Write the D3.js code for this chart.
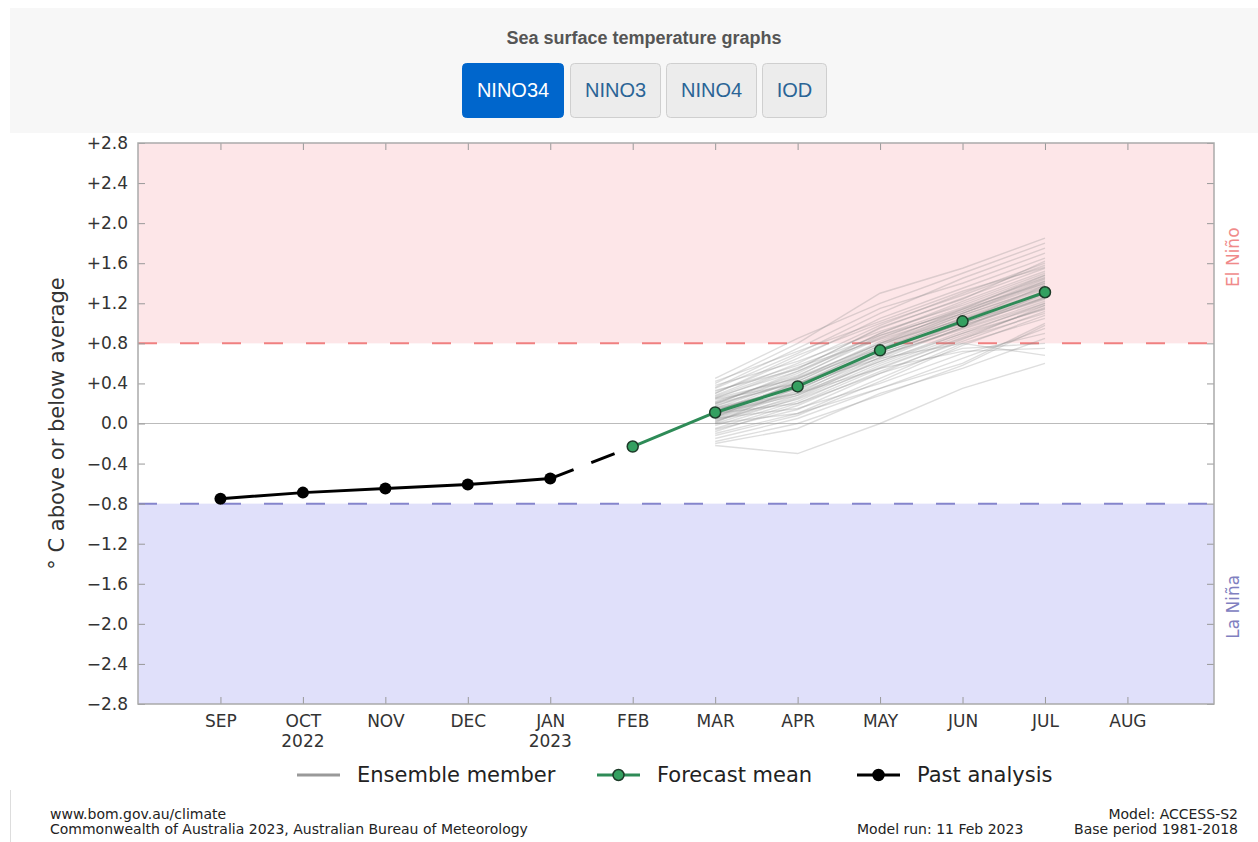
<!DOCTYPE html>
<html>
<head>
<meta charset="utf-8">
<script src="https://cdn.jsdelivr.net/npm/d3@7"></script>
<style>
  body { margin: 0; background: #fff; }
  text { font-family: "DejaVu Sans", sans-serif; }
  .btn text { font-family: "Liberation Sans", Arial, sans-serif; }
</style>
</head>
<body>
<div id="chart"></div>
<script>
// ---- data ----
var months = ["SEP", "OCT", "NOV", "DEC", "JAN", "FEB", "MAR", "APR", "MAY", "JUN", "JUL", "AUG"];
var years = { 1: "2022", 4: "2023" };
var yTicks = [2.8, 2.4, 2.0, 1.6, 1.2, 0.8, 0.4, 0.0, -0.4, -0.8, -1.2, -1.6, -2.0, -2.4, -2.8];

// past analysis SEP..JAN
var pastMonths = [0, 1, 2, 3, 4];
var pastValues = [-0.75, -0.69, -0.65, -0.61, -0.55];

// forecast mean FEB..JUL
var meanMonths = [5, 6, 7, 8, 9, 10];
var meanValues = [-0.23, 0.11, 0.37, 0.73, 1.02, 1.31];

// ensemble members MAR..JUL
var ensMonths = [6, 7, 8, 9, 10];
var ensemble = [
  [0.10, 0.38, 0.75, 1.05, 1.32], [0.05, 0.30, 0.70, 0.98, 1.25], [0.15, 0.45, 0.80, 1.10, 1.40],
  [0.20, 0.50, 0.90, 1.20, 1.50], [0.00, 0.25, 0.60, 0.90, 1.20], [-0.05, 0.20, 0.55, 0.85, 1.10],
  [0.25, 0.55, 0.95, 1.25, 1.55], [0.30, 0.65, 1.05, 1.35, 1.65], [-0.10, 0.10, 0.45, 0.80, 1.05],
  [0.35, 0.70, 1.10, 1.45, 1.75], [0.40, 0.80, 1.30, 1.55, 1.85], [-0.15, 0.05, 0.35, 0.65, 0.95],
  [-0.20, -0.05, 0.30, 0.55, 0.85], [0.12, 0.40, 0.72, 1.00, 1.28], [0.08, 0.35, 0.68, 0.95, 1.22],
  [0.18, 0.42, 0.78, 1.08, 1.35], [0.22, 0.48, 0.85, 1.15, 1.45], [0.02, 0.28, 0.62, 0.92, 1.18],
  [-0.02, 0.22, 0.58, 0.88, 1.15], [0.28, 0.60, 0.98, 1.30, 1.60], [0.45, 0.85, 1.20, 1.50, 1.80],
  [-0.22, -0.30, 0.00, 0.35, 0.60], [0.05, 0.15, 0.40, 0.70, 0.90], [0.10, 0.20, 0.50, 0.75, 0.80],
  [0.15, 0.30, 0.55, 0.72, 0.75], [0.20, 0.40, 0.65, 0.80, 0.68], [0.00, 0.10, 0.35, 0.60, 1.00],
  [0.32, 0.58, 0.88, 1.12, 1.42], [0.25, 0.45, 0.75, 1.00, 1.30], [0.06, 0.32, 0.66, 1.02, 1.38],
  [0.14, 0.36, 0.74, 1.06, 1.34], [-0.08, 0.18, 0.52, 0.82, 1.12], [0.38, 0.62, 0.92, 1.18, 1.48],
  [0.12, 0.44, 0.82, 1.12, 1.44], [0.04, 0.26, 0.64, 0.96, 1.26], [-0.12, 0.08, 0.42, 0.78, 1.08],
  [0.26, 0.52, 0.86, 1.14, 1.40], [0.16, 0.34, 0.70, 0.98, 1.24], [0.09, 0.40, 0.76, 1.08, 1.36],
  [0.21, 0.46, 0.80, 1.04, 1.30], [0.03, 0.24, 0.56, 0.86, 1.16], [0.30, 0.68, 1.00, 1.28, 1.58],
  [0.11, 0.30, 0.62, 0.90, 1.14], [-0.18, 0.00, 0.28, 0.58, 0.98], [0.36, 0.75, 1.15, 1.40, 1.70],
  [0.19, 0.52, 0.90, 1.22, 1.52], [0.07, 0.33, 0.72, 1.04, 1.30], [0.24, 0.40, 0.68, 0.94, 1.20],
  [0.13, 0.38, 0.78, 1.10, 1.42], [0.01, 0.36, 0.74, 1.00, 1.26], [0.17, 0.47, 0.88, 1.16, 1.46],
  [0.27, 0.56, 0.84, 1.10, 1.38], [-0.06, 0.14, 0.50, 0.84, 1.18], [0.33, 0.54, 0.96, 1.24, 1.62],
  [0.10, 0.28, 0.66, 0.96, 1.30], [0.42, 0.72, 1.02, 1.32, 1.56], [0.06, 0.42, 0.80, 1.14, 1.48]
];

var tabs = ["NINO34", "NINO3", "NINO4", "IOD"];
var elNino = 0.8, laNina = -0.8;

// ---- layout ----
var svgWidth = 1258, svgHeight = 842;
var plot = { left: 138, right: 1214, top: 143, bottom: 704 };

var svg = d3.select("#chart").append("svg")
    .attr("width", svgWidth)
    .attr("height", svgHeight);

// header panel
svg.append("rect")
    .attr("x", 10).attr("y", 8).attr("width", svgWidth - 10).attr("height", 125)
    .attr("fill", "#f7f7f7");
svg.append("line")
    .attr("x1", 10.5).attr("x2", 10.5).attr("y1", 790).attr("y2", svgHeight)
    .attr("stroke", "#ddd");

svg.append("text")
    .attr("x", 644).attr("y", 44)
    .attr("text-anchor", "middle")
    .style("font-family", "'Liberation Sans', Arial, sans-serif")
    .style("font-weight", "bold").style("font-size", "18px")
    .attr("fill", "#555")
    .text("Sea surface temperature graphs");

var btnX = [462, 570, 666, 762], btnW = [101, 90, 90, 64];
var btn = svg.selectAll("g.btn").data(tabs).enter().append("g").attr("class", "btn");
btn.append("rect")
    .attr("x", (d, i) => btnX[i] + 0.5).attr("y", 63.5)
    .attr("width", (d, i) => btnW[i]).attr("height", 54)
    .attr("rx", 4)
    .attr("fill", (d, i) => i === 0 ? "#0066cc" : "#ececec")
    .attr("stroke", (d, i) => i === 0 ? "#0066cc" : "#cfcfcf");
btn.append("text")
    .attr("x", (d, i) => btnX[i] + btnW[i] / 2 + 0.5).attr("y", 97)
    .attr("text-anchor", "middle")
    .style("font-size", "20px")
    .attr("fill", (d, i) => i === 0 ? "#fff" : "#2a6496")
    .text(d => d);

// ---- scales ----
var x = d3.scaleLinear().domain([-1, 12.05]).range([plot.left, plot.right]);
var y = d3.scaleLinear().domain([-2.8, 2.8]).range([plot.bottom, plot.top]);

var chart = svg.append("g");

// shading
chart.append("rect")
    .attr("x", plot.left).attr("width", plot.right - plot.left)
    .attr("y", y(2.8)).attr("height", y(elNino) - y(2.8))
    .attr("fill", "#fde6e8");
chart.append("rect")
    .attr("x", plot.left).attr("width", plot.right - plot.left)
    .attr("y", y(laNina)).attr("height", y(-2.8) - y(laNina))
    .attr("fill", "#e0e0fa");

// zero line + thresholds
chart.append("line")
    .attr("x1", plot.left).attr("x2", plot.right).attr("y1", y(0)).attr("y2", y(0))
    .attr("stroke", "#bbb").attr("stroke-width", 1.2);
chart.append("line")
    .attr("x1", plot.left).attr("x2", plot.right).attr("y1", y(elNino)).attr("y2", y(elNino))
    .attr("stroke", "#f08080").attr("stroke-width", 2).attr("stroke-dasharray", "19,23");
chart.append("line")
    .attr("x1", plot.left).attr("x2", plot.right).attr("y1", y(laNina)).attr("y2", y(laNina))
    .attr("stroke", "#8585cc").attr("stroke-width", 2).attr("stroke-dasharray", "19,23");

// axes (ticks inward on all four sides)
var tickColor = "#999";
function styleAxis(g) {
    g.select(".domain").remove();
    g.selectAll(".tick line").attr("stroke", tickColor);
    g.selectAll(".tick text").attr("fill", "#333").style("font-size", "17px");
}
chart.append("g")
    .attr("transform", `translate(${plot.left},0)`)
    .call(d3.axisLeft(y).tickValues(yTicks).tickSize(-7).tickPadding(10)
        .tickFormat(d => d === 0 ? "0.0" : (d > 0 ? "+" : "\u2212") + Math.abs(d).toFixed(1)))
    .call(styleAxis);
chart.append("g")
    .attr("transform", `translate(${plot.right},0)`)
    .call(d3.axisRight(y).tickValues(yTicks).tickSize(-7).tickFormat(""))
    .call(styleAxis);
chart.append("g")
    .attr("transform", `translate(0,${plot.bottom})`)
    .call(d3.axisBottom(x).tickValues(d3.range(months.length)).tickSize(-7).tickPadding(11)
        .tickFormat(i => months[i]))
    .call(styleAxis);
chart.append("g")
    .attr("transform", `translate(0,${plot.top})`)
    .call(d3.axisTop(x).tickValues(d3.range(months.length)).tickSize(-7).tickFormat(""))
    .call(styleAxis);

// year labels
chart.selectAll("text.year").data(Object.keys(years)).enter().append("text")
    .attr("class", "year")
    .attr("x", d => x(+d)).attr("y", plot.bottom + 43)
    .attr("text-anchor", "middle").attr("fill", "#333").style("font-size", "17px")
    .text(d => years[d]);

// frame
chart.append("rect")
    .attr("x", plot.left).attr("y", plot.top)
    .attr("width", plot.right - plot.left).attr("height", plot.bottom - plot.top)
    .attr("fill", "none").attr("stroke", "#aaa").attr("stroke-width", 1.5);

// ensemble members
var ensLine = d3.line().x((d, i) => x(ensMonths[i])).y(d => y(d));
chart.append("g").selectAll("path").data(ensemble).enter().append("path")
    .attr("d", ensLine)
    .attr("fill", "none").attr("stroke", "#8a8a8a")
    .attr("stroke-opacity", 0.28).attr("stroke-width", 1.4);

// past analysis
var pastLine = d3.line().x((d, i) => x(pastMonths[i])).y(d => y(d));
chart.append("path")
    .attr("d", pastLine(pastValues))
    .attr("fill", "none").attr("stroke", "#000").attr("stroke-width", 3);
// dashed link from last analysis to first forecast
chart.append("line")
    .attr("x1", x(pastMonths[4])).attr("y1", y(pastValues[4]))
    .attr("x2", x(meanMonths[0])).attr("y2", y(meanValues[0]))
    .attr("stroke", "#000").attr("stroke-width", 3).attr("stroke-dasharray", "25,19");
chart.append("g").selectAll("circle").data(pastValues).enter().append("circle")
    .attr("cx", (d, i) => x(pastMonths[i])).attr("cy", d => y(d)).attr("r", 6)
    .attr("fill", "#000");

// forecast mean
var meanLine = d3.line().x((d, i) => x(meanMonths[i])).y(d => y(d));
chart.append("path")
    .attr("d", meanLine(meanValues))
    .attr("fill", "none").attr("stroke", "#2e8b57").attr("stroke-width", 3);
chart.append("g").selectAll("circle").data(meanValues).enter().append("circle")
    .attr("cx", (d, i) => x(meanMonths[i])).attr("cy", d => y(d)).attr("r", 5.5)
    .attr("fill", "#34a060").attr("stroke", "#1d3b29").attr("stroke-width", 1.5);

// axis label
svg.append("text")
    .attr("transform", `translate(64,${(plot.top + plot.bottom) / 2}) rotate(-90)`)
    .attr("text-anchor", "middle").attr("fill", "#333").style("font-size", "21px")
    .text("\u00b0 C above or below average");

// right labels
svg.append("text")
    .attr("transform", `translate(1239,${y(1.66)}) rotate(-90)`)
    .attr("text-anchor", "middle").attr("fill", "#f08a8a").style("font-size", "17px")
    .text("El Niño");
svg.append("text")
    .attr("transform", `translate(1239,${y(-1.83)}) rotate(-90)`)
    .attr("text-anchor", "middle").attr("fill", "#8080c0").style("font-size", "17px")
    .text("La Niña");

// legend
var legend = [
    { label: "Ensemble member", x: 297, color: "#999", marker: null },
    { label: "Forecast mean", x: 597, color: "#2e8b57", marker: "#34a060" },
    { label: "Past analysis", x: 857, color: "#000", marker: "#000" }
];
var lg = svg.append("g").selectAll("g").data(legend).enter().append("g")
    .attr("transform", d => `translate(${d.x},775)`);
lg.append("line").attr("x1", 0).attr("x2", 43)
    .attr("stroke", d => d.color).attr("stroke-width", 3);
lg.filter(d => d.marker).append("circle")
    .attr("cx", 21.5).attr("r", 5.5)
    .attr("fill", d => d.marker).attr("stroke", d => d.label === "Forecast mean" ? "#1d3b29" : "#000")
    .attr("stroke-width", 1.5);
lg.append("text").attr("x", 60).attr("y", 7)
    .attr("fill", "#222").style("font-size", "21px")
    .text(d => d.label);

// footer
var foot = svg.append("g").style("font-size", "14px").attr("fill", "#222");
foot.append("text").attr("x", 50).attr("y", 819).text("www.bom.gov.au/climate");
foot.append("text").attr("x", 50).attr("y", 834).text("Commonwealth of Australia 2023, Australian Bureau of Meteorology");
foot.append("text").attr("x", 857).attr("y", 834).text("Model run: 11 Feb 2023");
foot.append("text").attr("x", 1238).attr("y", 819).attr("text-anchor", "end").text("Model: ACCESS-S2");
foot.append("text").attr("x", 1238).attr("y", 834).attr("text-anchor", "end").text("Base period 1981-2018");
</script>
</body>
</html>
